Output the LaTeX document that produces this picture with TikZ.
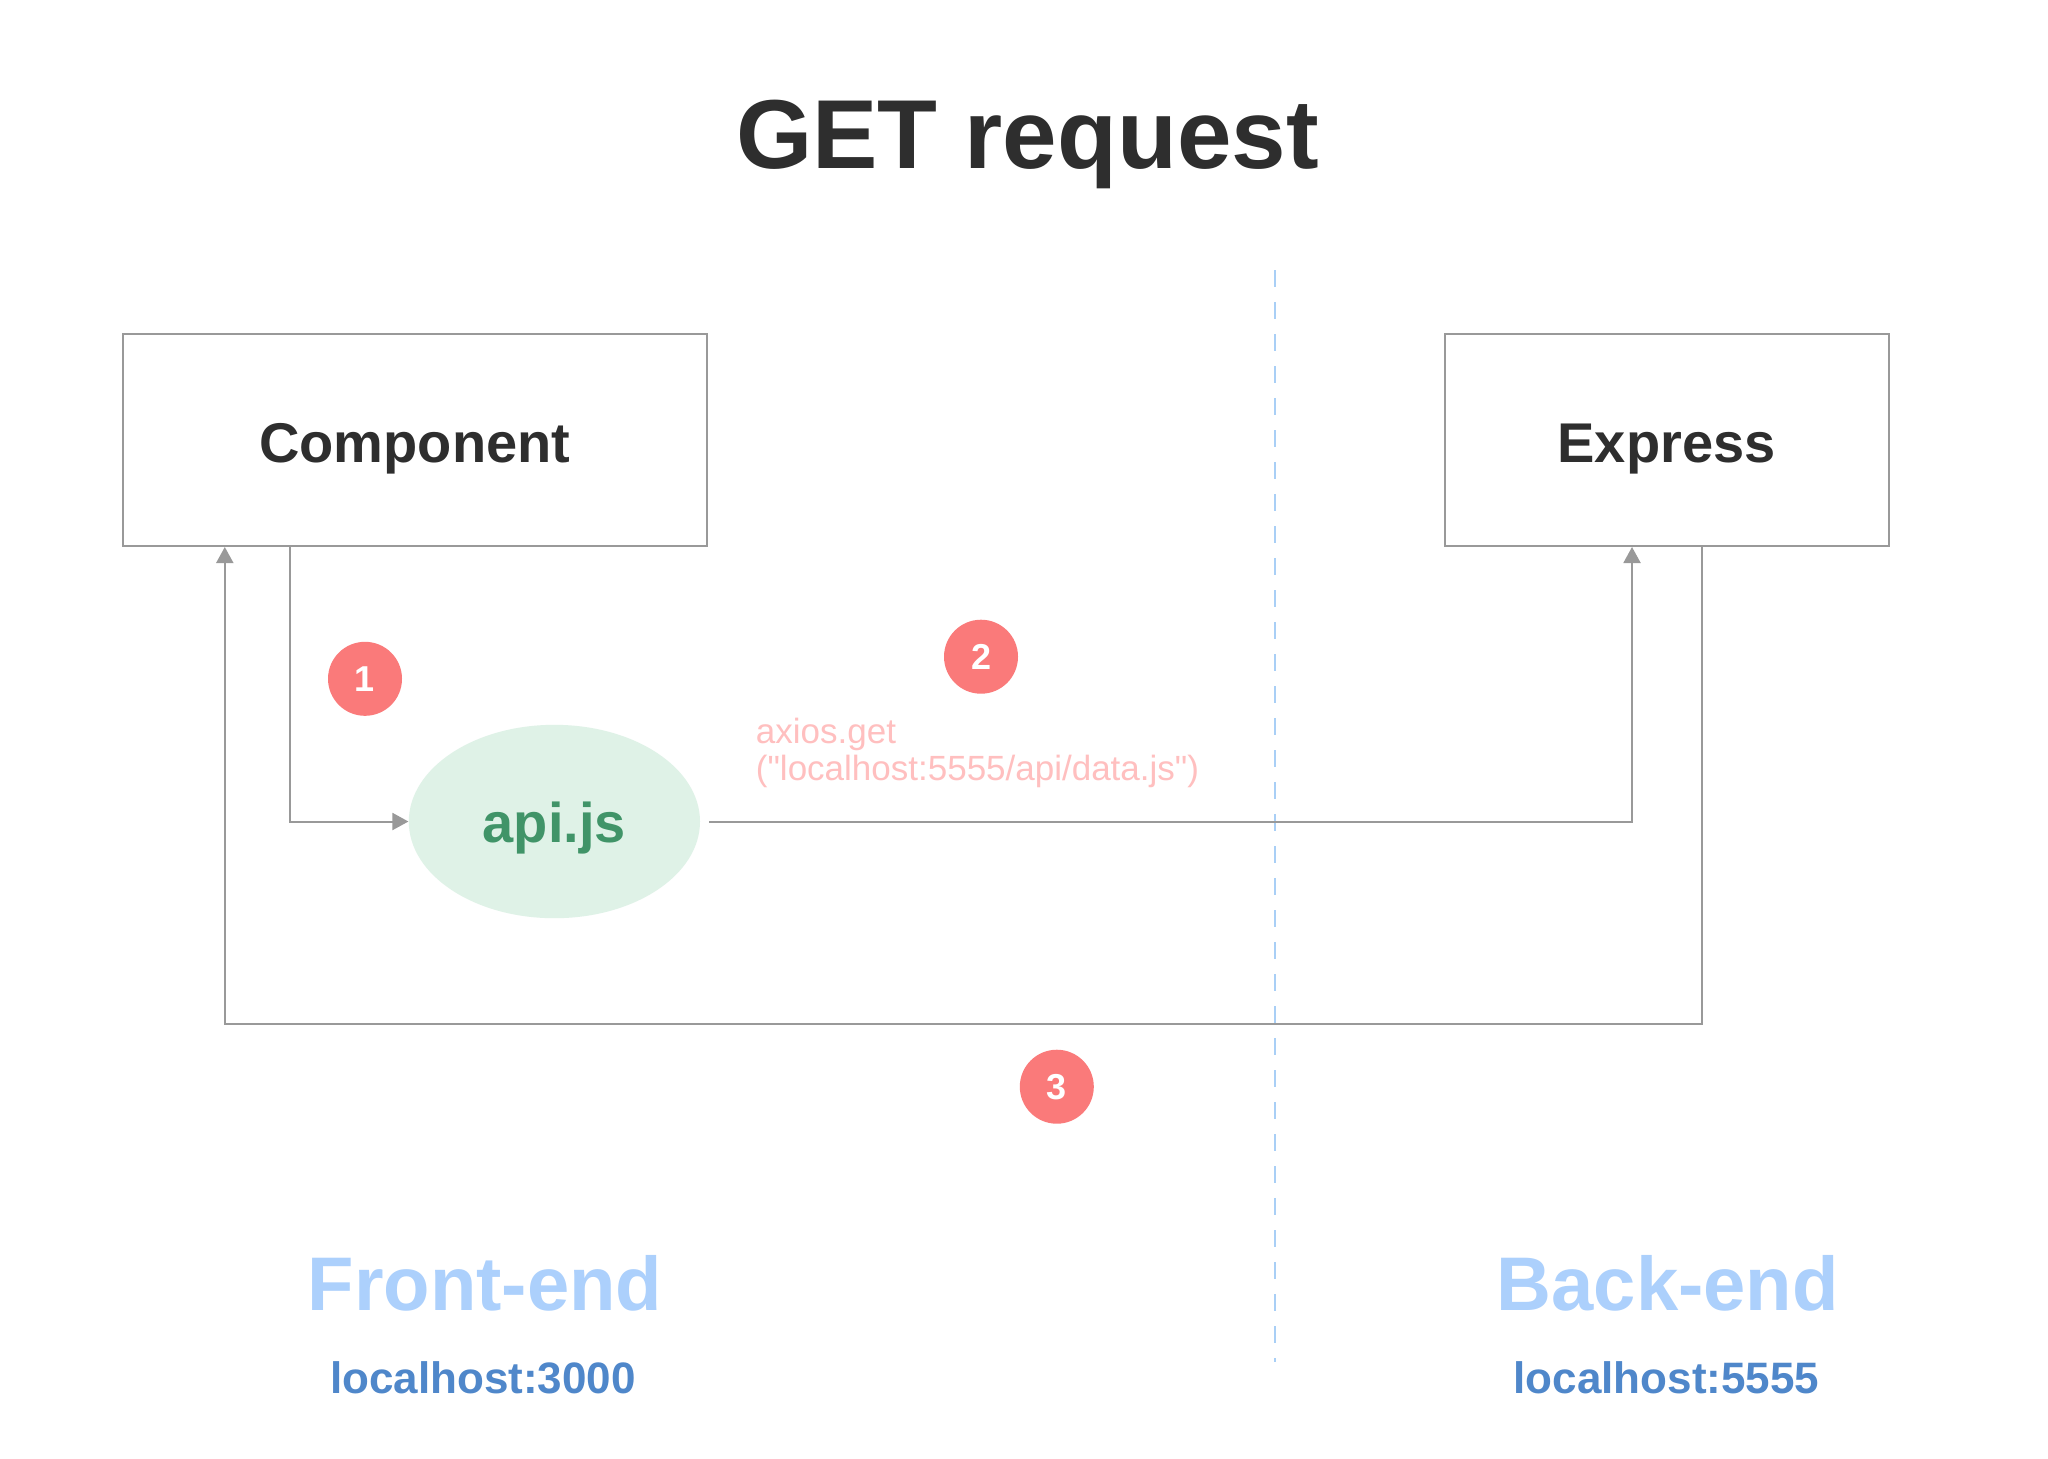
\documentclass[tikz,border=0pt]{standalone}
\usepackage{fontspec}
\setmainfont{Liberation Sans}
\newfontfamily\axiosfont{Liberation Sans}[Ligatures=TeXOff]
\usetikzlibrary{arrows.meta,shapes.geometric}
\definecolor{darktext}{HTML}{2E2E2E}
\definecolor{boxgray}{HTML}{999999}
\definecolor{mint}{HTML}{DFF2E7}
\definecolor{apigreen}{HTML}{409468}
\definecolor{badge}{HTML}{FA7A7A}
\definecolor{axiospink}{HTML}{FFBFBF}
\definecolor{endblue}{HTML}{ACD0FC}
\definecolor{hostblue}{HTML}{4F87CA}
\definecolor{divblue}{HTML}{A9CFF6}
\tikzset{
  boxnode/.style={draw=boxgray, line width=1pt, rectangle, inner sep=0pt,
    text=darktext, font=\bfseries\fontsize{28}{30}\selectfont,
    text height=22pt, text depth=0pt, minimum height=105.8pt},
  apinode/.style={ellipse, fill=mint, draw=none, inner sep=0pt,
    minimum width=145.6pt, minimum height=96.7pt, text=apigreen,
    font=\bfseries\fontsize{28}{30}\selectfont, text height=20.6pt, text depth=0pt},
  badgenode/.style={circle, fill=badge, draw=none, inner sep=0pt,
    minimum size=37pt, text=white, font=\bfseries\fontsize{18}{20}\selectfont},
  conn/.style={draw=boxgray, line width=1pt},
  connarrow/.style={conn, -{Triangle[length=8pt,width=8.5pt]}},
  divider/.style={draw=divblue, line width=1pt, dash pattern=on 8.7pt off 7.3pt},
  endlabel/.style={text=endblue, font=\bfseries\fontsize{38}{40}\selectfont, inner sep=0pt, anchor=base},
  hostlabel/.style={text=hostblue, font=\bfseries\fontsize{22}{24}\selectfont, inner sep=0pt, anchor=base},
}
\begin{document}
\begin{tikzpicture}[x=0.5pt,y=-0.5pt]
\useasboundingbox (0,0) rectangle (2048,1458);
\fill[white] (0,0) rectangle (2048,1458);

% title
\node[text=darktext, font=\bfseries\fontsize{49}{52}\selectfont, inner sep=0pt, anchor=base] (title) at (1027.5,168.3) {GET request};

% divider
\coordinate (dtop) at (1274.8,270);
\coordinate (dbot) at (1274.8,1362);
\draw[divider] (dtop) -- (dbot);

% boxes
\node[boxnode, minimum width=291.9pt] (comp) at (414.7,440.2) {Component};
\node[boxnode, minimum width=222pt] (expr) at (1666.5,440.2) {Express};

% api.js
\node[apinode] (api) at (554.4,821.5) {api.js};

% helper coordinates
\coordinate (k1) at (289.5,0);
\coordinate (k2) at (1632,0);
\coordinate (k3) at (1701.5,0);
\coordinate (k4) at (224.8,1024);

% connectors
\draw[connarrow] (comp.south -| k1) |- (api.west);
\draw[connarrow] ([xshift=4.5pt]api.east) -| (expr.south -| k2);
\draw[connarrow] (expr.south -| k3) |- (k4) -- (comp.south -| k4);

% badges
\node[badgenode] (b1) at (365,678.8) {1};
\node[badgenode] (b2) at (981,656.7) {2};
\node[badgenode] (b3) at (1056.8,1086.7) {3};

% axios label
\node[text=axiospink, font=\axiosfont\fontsize{17.5}{18.3}\selectfont, align=left, inner sep=0pt, anchor=base west] (axios) at (755.5,780) {axios.get\\("localhost:5555/api/data.js")};

% bottom labels
\node[endlabel] (front) at (485,1310.7) {Front-end};
\node[hostlabel] (fhost) at (483,1393.3) {localhost:3000};
\node[endlabel] (back) at (1667.8,1310.7) {Back-end};
\node[hostlabel] (bhost) at (1666.5,1393.3) {localhost:5555};
\end{tikzpicture}
\end{document}
